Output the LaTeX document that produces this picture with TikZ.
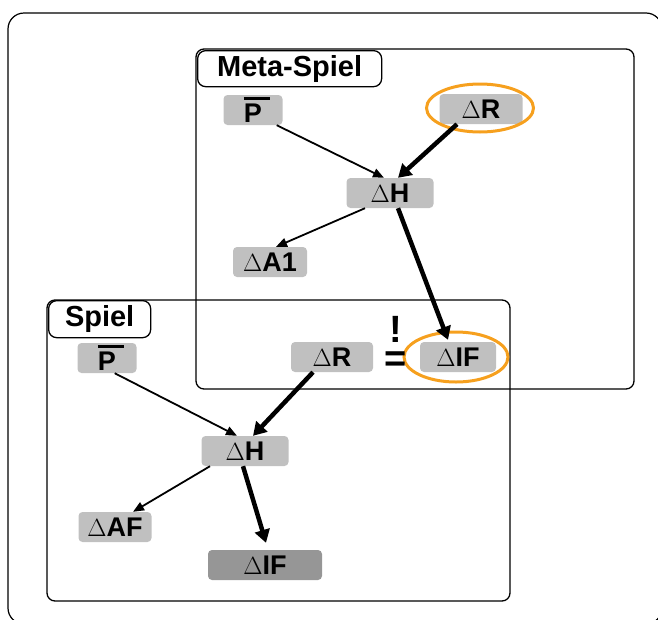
\documentclass[tikz,border=0pt]{standalone}
\usepackage{fontspec}
\setmainfont{Liberation Sans}
\usetikzlibrary{arrows.meta,shapes.geometric}
\definecolor{nodegray}{RGB}{192,192,192}
\definecolor{darkgray2}{RGB}{150,150,150}
\definecolor{ringorange}{RGB}{246,160,30}
\newcommand{\pbar}{\rlap{\raisebox{0.84em}{\rule{0.95em}{0.12em}}}P}
\newcommand{\dlt}{$\Delta$}
\tikzset{
  box/.style={draw=black, line width=1.3pt, rounded corners=8pt},
  tag/.style={draw=black, line width=1.3pt, rounded corners=8pt, fill=white, anchor=north west,
    inner sep=0pt, font=\fontsize{29}{31}\selectfont\bfseries},
  var/.style={fill=nodegray, rounded corners=4pt, minimum height=30pt, inner sep=0pt,
    font=\fontsize{27}{29}\selectfont\bfseries},
  ring/.style={draw=ringorange, line width=3pt, ellipse, inner sep=0pt},
  thin/.style={line width=1.8pt, -{Triangle[length=11pt,width=9pt]}},
  thick/.style={line width=4.5pt, -{Triangle[length=13pt,width=15pt]}},
  sym/.style={inner sep=0pt, align=center, font=\fontsize{38}{29}\selectfont\bfseries},
}
\begin{document}
\begin{tikzpicture}[x=1pt,y=-1pt]
\useasboundingbox (0,0) rectangle (658,619);
% outer frame
\draw[line width=1.2pt, rounded corners=16pt] (8,13) rectangle (662,624);
% boxes
\draw[box] (196,49) rectangle (634,389);
\draw[box] (47,300) rectangle (510,601);
\node[tag, minimum width=184pt, minimum height=36pt] (metatag) at (197,50) {Meta-Spiel};
\node[tag, minimum width=102pt, minimum height=37pt] (spieltag) at (48,300) {Spiel};
% meta nodes
\node[var, minimum width=59pt] (mP) at (253,110) {\pbar};
\node[var, minimum width=83pt] (mR) at (481,109) {\dlt R};
\node[var, minimum width=87pt] (mH) at (390,193) {\dlt H};
\node[var, minimum width=74pt] (mA) at (270,262) {\dlt A1};
\node[var, minimum width=76pt] (mIF) at (458,357) {\dlt IF};
% spiel nodes
\node[var, minimum width=59pt] (sP) at (107,358) {\pbar};
\node[var, minimum width=82pt] (sR) at (332,357) {\dlt R};
\node[var, minimum width=87pt] (sH) at (245,451) {\dlt H};
\node[var, minimum width=73pt] (sAF) at (115,527) {\dlt AF};
\node[var, minimum width=114pt, fill=darkgray2] (sIF) at (265,565) {\dlt IF};
% rings
\node[ring, minimum width=107pt, minimum height=48pt] (rR) at (480,108) {};
\node[ring, minimum width=104pt, minimum height=50pt] (rIF) at (456,357) {};
% != (should equal)
\node[sym, anchor=north] (neq) at (396,316) {!\\=};
% meta arrows
\draw[thin] ([xshift=-6pt]mP.south east) -- ([xshift=-6pt]mH.north);
\draw[thick] ([xshift=-24pt]mR.south) -- ([xshift=8pt]mH.north);
\draw[thin] ([xshift=-25pt]mH.south) -- ([xshift=6pt]mA.north);
\draw[thick] ([xshift=8pt]mH.south) -- ([xshift=-10pt,yshift=2pt]mIF.north);
% spiel arrows
\draw[thin] ([xshift=-22pt]sP.south east) -- ([xshift=-8pt]sH.north);
\draw[thick] ([xshift=-19pt]sR.south) -- ([xshift=8pt]sH.north);
\draw[thin] ([xshift=-35pt]sH.south) -- ([xshift=18pt]sAF.north);
\draw[thick] ([xshift=-2pt]sH.south) -- ([xshift=1pt,yshift=7pt]sIF.north);
\end{tikzpicture}
\end{document}
